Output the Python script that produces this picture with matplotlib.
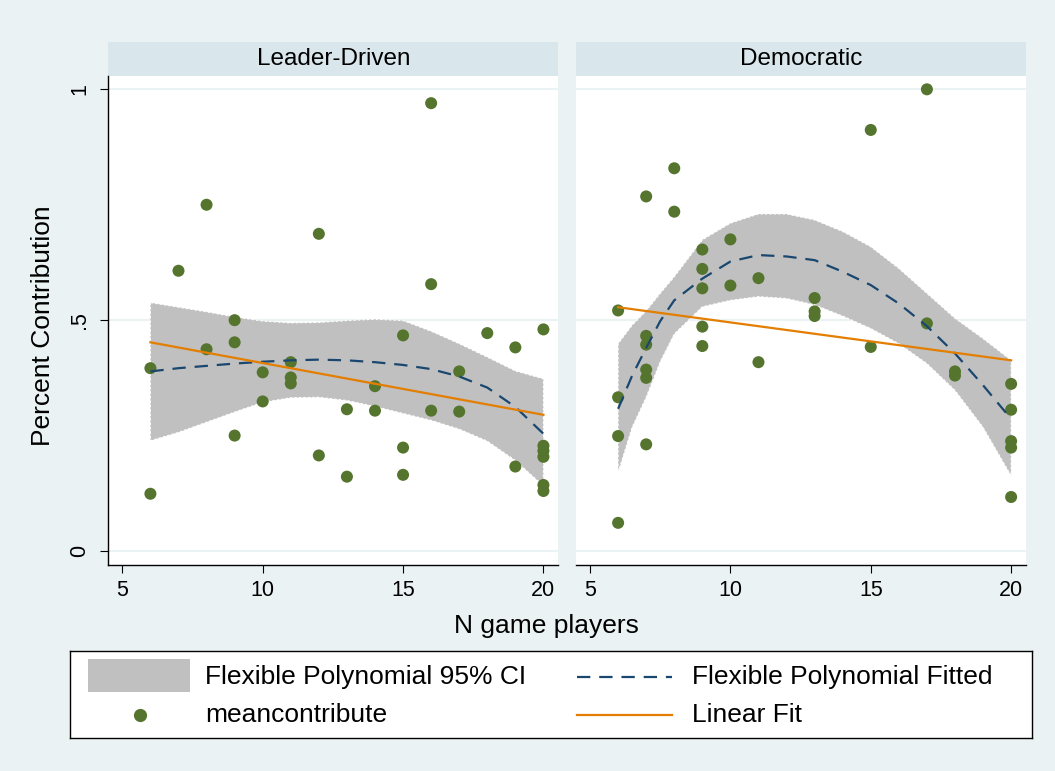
import matplotlib
matplotlib.use("Agg")
import matplotlib.pyplot as plt
from matplotlib.patches import Rectangle
from matplotlib.lines import Line2D

plt.rcParams["font.family"] = ["Liberation Sans", "DejaVu Sans"]

# ---- data ----
panels = ["Leader-Driven", "Democratic"]

# scatter: meancontribute by N game players
ld_x = [6, 6, 7, 8, 8, 9, 9, 9, 10, 10, 11, 11, 11, 12, 12, 13, 13, 14, 14,
        15, 15, 15, 16, 16, 16, 17, 17, 18, 19, 19, 20, 20, 20, 20, 20, 20]
ld_y = [0.396, 0.124, 0.607, 0.750, 0.437, 0.500, 0.452, 0.250, 0.387, 0.324,
        0.409, 0.376, 0.363, 0.687, 0.207, 0.307, 0.161, 0.357, 0.304,
        0.467, 0.224, 0.165, 0.970, 0.578, 0.304, 0.389, 0.302, 0.472,
        0.441, 0.183, 0.480, 0.228, 0.217, 0.204, 0.143, 0.130]

dem_x = [6, 6, 6, 6, 7, 7, 7, 7, 7, 7, 8, 8, 9, 9, 9, 9, 9, 10, 10, 11, 11,
         13, 13, 13, 15, 15, 17, 17, 18, 18, 20, 20, 20, 20, 20]
dem_y = [0.521, 0.333, 0.249, 0.061, 0.768, 0.466, 0.447, 0.393, 0.375, 0.231,
         0.829, 0.735, 0.653, 0.611, 0.569, 0.486, 0.444, 0.675, 0.575,
         0.591, 0.409, 0.548, 0.519, 0.509, 0.912, 0.442, 1.000, 0.493,
         0.389, 0.380, 0.362, 0.306, 0.238, 0.224, 0.117]

# fitted curves (flexible polynomial + 95% CI) read along N
ld_fx = list(range(6, 21))
ld_fit = [0.389, 0.396, 0.401, 0.406, 0.410, 0.413, 0.4145, 0.413, 0.409,
          0.403, 0.394, 0.378, 0.354, 0.312, 0.254]
ld_hi = [0.538, 0.528, 0.518, 0.507, 0.498, 0.494, 0.495, 0.499, 0.502,
         0.499, 0.476, 0.449, 0.420, 0.390, 0.373]
ld_lo = [0.239, 0.257, 0.279, 0.301, 0.322, 0.332, 0.333, 0.326, 0.313,
         0.298, 0.283, 0.264, 0.238, 0.196, 0.141]

dem_fx = [6, 6.5, 7, 7.5, 8, 9, 10, 11, 12, 13, 14, 15, 16, 17, 18, 19, 20]
dem_fit = [0.308, 0.380, 0.440, 0.498, 0.543, 0.590, 0.627, 0.641, 0.638,
           0.630, 0.605, 0.576, 0.536, 0.487, 0.428, 0.359, 0.286]
dem_hi = [0.449, 0.489, 0.520, 0.558, 0.594, 0.674, 0.710, 0.730, 0.730,
          0.717, 0.692, 0.659, 0.612, 0.558, 0.504, 0.460, 0.413]
dem_lo = [0.170, 0.268, 0.333, 0.410, 0.470, 0.529, 0.543, 0.551, 0.547,
          0.533, 0.509, 0.482, 0.449, 0.406, 0.348, 0.268, 0.163]

# linear fit end points
lin_x = [6, 20]
ld_lin = [0.452, 0.295]
dem_lin = [0.528, 0.413]

xticks = [5, 10, 15, 20]
yticks = [0, 0.5, 1]
yticklabels = ["0", ".5", "1"]

# ---- style ----
BG = "#EAF2F3"
STRIP = "#D9E6EB"
GREEN = "#55752F"
NAVY = "#1A476F"
ORANGE = "#E37E00"
GRAY = "#C0C0C0"

W, H = 1055, 771
fig = plt.figure(figsize=(W / 100, H / 100), dpi=100, facecolor=BG)


def fx(px):
    return px / W


def fy(py):
    return 1 - py / H


ax_top, ax_bot = 75.7, 565
lefts = [108.3, 576]
pw = 450

series = [
    (ld_x, ld_y, ld_fx, ld_fit, ld_hi, ld_lo, ld_lin),
    (dem_x, dem_y, dem_fx, dem_fit, dem_hi, dem_lo, dem_lin),
]

for i, (title, (sx, sy, cx, fit, hi, lo, lin)) in enumerate(zip(panels, series)):
    ax = fig.add_axes([fx(lefts[i]), fy(ax_bot), pw / W, (ax_bot - ax_top) / H])
    ax.set_facecolor("white")
    ax.fill_between(cx, lo, hi, color=GRAY, lw=0.8, edgecolor="white",
                    linestyle=(0, (2, 2)), zorder=2)
    ax.scatter(sx, sy, s=75, color=GREEN, edgecolor="none", zorder=3)
    ax.plot(cx, fit, color=NAVY, lw=1.6, dashes=(6, 4), zorder=4)
    ax.plot(lin_x, lin, color=ORANGE, lw=1.6, zorder=5)

    ax.set_xlim(4.5, 20.53)
    ax.set_ylim(-0.0303, 1.0295)
    for yv in yticks:
        ax.axhline(yv, color=BG, lw=1.5, zorder=1)

    ax.set_xticks(xticks)
    ax.tick_params(axis="x", length=6, width=0.8, pad=5, labelsize=15.5)
    ax.set_yticks(yticks)
    ax.set_yticklabels(yticklabels, rotation=90, va="center")
    ax.tick_params(axis="y", length=6, width=0.8, pad=7, labelsize=15.5)

    for side in ["top", "right"]:
        ax.spines[side].set_visible(False)
    ax.spines["bottom"].set_linewidth(1.0)
    ax.spines["left"].set_linewidth(1.0)
    if i == 1:
        ax.spines["left"].set_visible(False)
        ax.tick_params(axis="y", left=False, labelleft=False)

    # strip header
    h = ax_bot - ax_top
    strip_h = (ax_top - 42) / h
    ax.add_patch(Rectangle((0, 1), 1, strip_h, transform=ax.transAxes,
                           facecolor=STRIP, edgecolor="none", clip_on=False))
    ax.text(0.5, 1 + strip_h / 2, title, transform=ax.transAxes,
            ha="center", va="center", fontsize=17.5)

fig.text(fx(546), fy(626), "N game players", ha="center", va="center",
         fontsize=19)
fig.text(fx(43), fy(326), "Percent Contribution", ha="center", va="center",
         rotation=90, fontsize=19)

# legend box drawn in pixel units
lx0, ly0, lw_, lh_ = 70, 651, 962, 87
lax = fig.add_axes([fx(lx0), fy(ly0 + lh_), lw_ / W, lh_ / H])
lax.set_xlim(lx0, lx0 + lw_)
lax.set_ylim(ly0 + lh_, ly0)
lax.set_xticks([])
lax.set_yticks([])
lax.set_facecolor("white")
for sp in lax.spines.values():
    sp.set_linewidth(1.0)
lax.add_patch(Rectangle((88, 659), 102, 33, facecolor=GRAY, edgecolor="none"))
lax.add_line(Line2D([140], [715], marker="o", markersize=9.5, color=GREEN,
                    markeredgecolor="none"))
lax.add_line(Line2D([577, 672], [677, 677], color=NAVY, lw=1.6, dashes=(6, 4)))
lax.add_line(Line2D([577, 672], [715, 715], color=ORANGE, lw=1.6))
lax.text(205, 677, "Flexible Polynomial 95% CI", va="center", fontsize=19)
lax.text(205, 715, "meancontribute", va="center", fontsize=19)
lax.text(692, 677, "Flexible Polynomial Fitted", va="center", fontsize=19)
lax.text(692, 715, "Linear Fit", va="center", fontsize=19)

fig.savefig("out.png", dpi=100, facecolor=BG)
